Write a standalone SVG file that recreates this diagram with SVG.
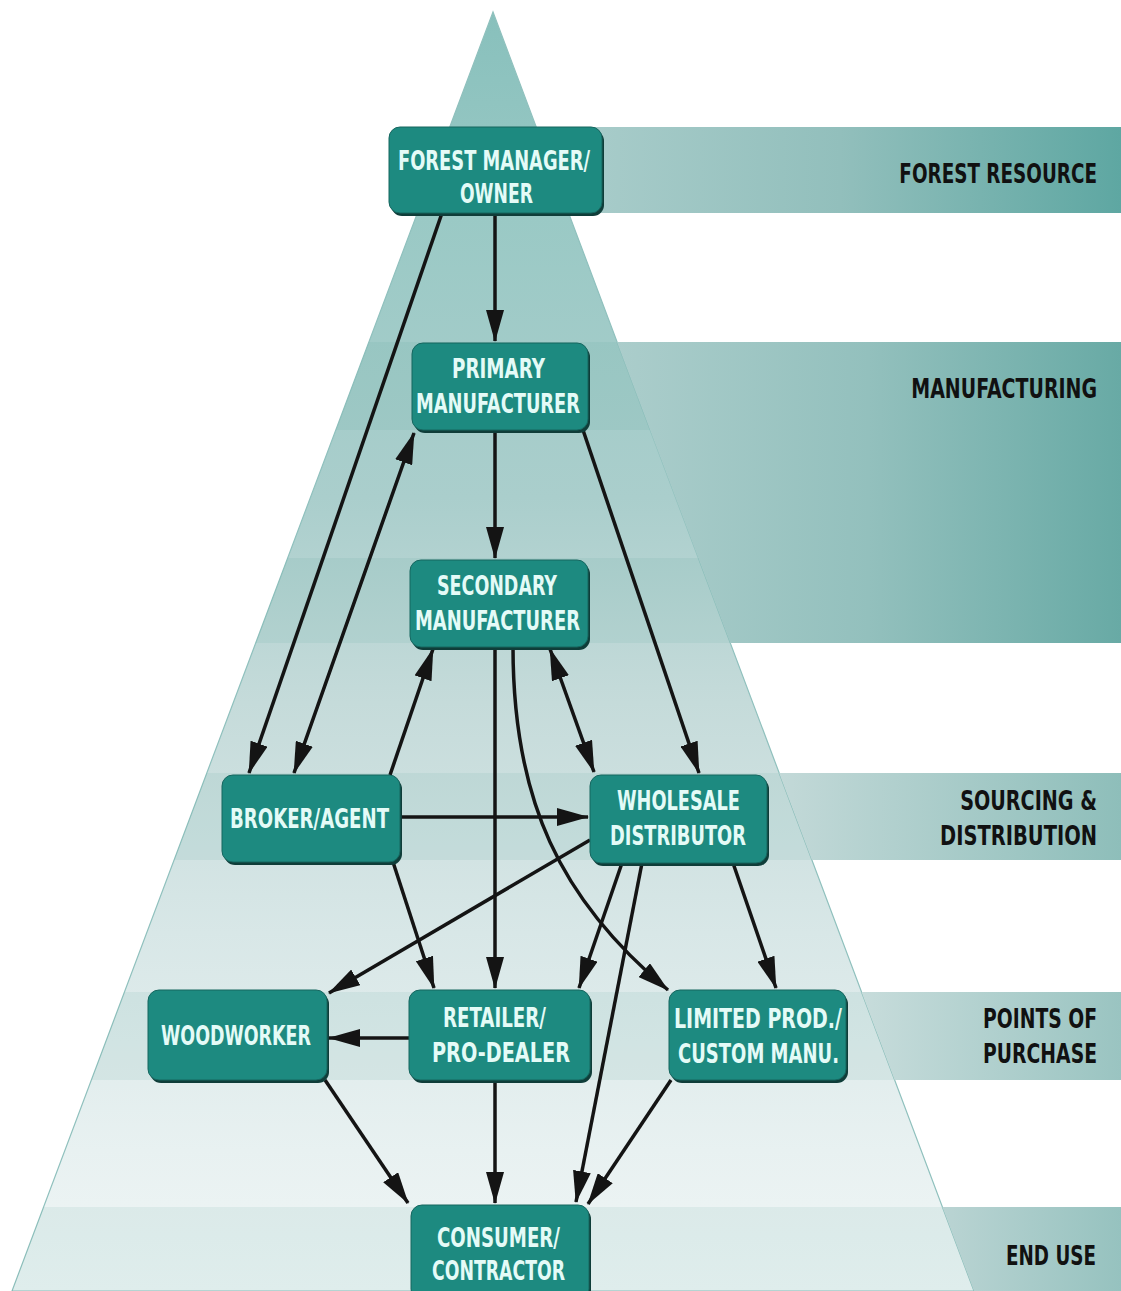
<svg xmlns="http://www.w3.org/2000/svg" width="1121" height="1291" viewBox="0 0 1121 1291">
<defs>
<style>
.box{fill:#1d8a80;stroke:#16665f;stroke-width:1}
.shd{fill:#0f3d39}
.nt{font-family:"DejaVu Sans Condensed","DejaVu Sans","Liberation Sans",sans-serif;font-weight:bold;font-size:26px;fill:#e4fbf7}
.bl{font-family:"DejaVu Sans",sans-serif;font-weight:bold;font-size:26px;fill:#111;text-anchor:end}
.ln{fill:none;stroke:#141414;stroke-width:3.5}
.tb{fill:#4f9994;opacity:0.1}
</style>
<marker id="ah" viewBox="0 0 32 18" refX="31" refY="9" markerWidth="32" markerHeight="18" markerUnits="userSpaceOnUse" orient="auto-start-reverse">
<path d="M0,0 L32,9 L0,18 Z" fill="#141414"/>
</marker>
<linearGradient id="triG" gradientUnits="userSpaceOnUse" x1="0" y1="12" x2="0" y2="1291">
<stop offset="0" stop-color="#88c0bc"/>
<stop offset="0.16" stop-color="#9ac9c5"/>
<stop offset="0.38" stop-color="#aacecc"/>
<stop offset="0.54" stop-color="#c5dbda"/>
<stop offset="0.72" stop-color="#d8e7e7"/>
<stop offset="0.89" stop-color="#e8f1f1"/>
<stop offset="1" stop-color="#f0f6f6"/>
</linearGradient>
<linearGradient id="b1" gradientUnits="userSpaceOnUse" x1="560" y1="0" x2="1121" y2="0">
<stop offset="0" stop-color="#aacdcb"/><stop offset="0.5" stop-color="#92bfbc"/><stop offset="1" stop-color="#5ea7a2"/>
</linearGradient>
<linearGradient id="b2" gradientUnits="userSpaceOnUse" x1="617" y1="0" x2="1121" y2="0">
<stop offset="0" stop-color="#abcdcb"/><stop offset="0.5" stop-color="#93c0bd"/><stop offset="1" stop-color="#68aaa5"/>
</linearGradient>
<linearGradient id="b3" gradientUnits="userSpaceOnUse" x1="779" y1="0" x2="1121" y2="0">
<stop offset="0" stop-color="#c3d9d8"/><stop offset="1" stop-color="#8ebeba"/>
</linearGradient>
<linearGradient id="b4" gradientUnits="userSpaceOnUse" x1="862" y1="0" x2="1121" y2="0">
<stop offset="0" stop-color="#c7dcdb"/><stop offset="1" stop-color="#9ac4c1"/>
</linearGradient>
<linearGradient id="b5" gradientUnits="userSpaceOnUse" x1="942" y1="0" x2="1121" y2="0">
<stop offset="0" stop-color="#bad4d3"/><stop offset="1" stop-color="#96c2bf"/>
</linearGradient>
<clipPath id="tri"><polygon points="493,12 12,1291 974,1291"/></clipPath>
<clipPath id="outR"><polygon points="493,12 1121,12 1121,1291 974,1291"/></clipPath>
</defs>

<rect width="1121" height="1291" fill="#ffffff"/>

<g id="background">
<polygon points="493,12 12,1291 974,1291" fill="url(#triG)" stroke="#8fc0bd" stroke-width="1.2"/>
<g clip-path="url(#tri)">
<rect class="tb" x="0" y="127" width="1121" height="86"/>
<rect class="tb" x="0" y="342" width="1121" height="88"/>
<rect class="tb" x="0" y="558" width="1121" height="85"/>
<rect class="tb" x="0" y="773" width="1121" height="87"/>
<rect class="tb" x="0" y="992" width="1121" height="88"/>
<rect class="tb" x="0" y="1207" width="1121" height="84"/>
</g>
<g clip-path="url(#outR)">
<rect x="500" y="127" width="621" height="86" fill="url(#b1)"/>
<rect x="500" y="342" width="621" height="301" fill="url(#b2)"/>
<rect x="500" y="773" width="621" height="87" fill="url(#b3)"/>
<rect x="500" y="992" width="621" height="88" fill="url(#b4)"/>
<rect x="500" y="1207" width="621" height="84" fill="url(#b5)"/>
</g>
</g>

<g id="band-labels">
<text class="bl" transform="translate(1097,183) scale(0.707,1)">FOREST RESOURCE</text>
<text class="bl" transform="translate(1097,398) scale(0.73,1)">MANUFACTURING</text>
<text class="bl" transform="translate(1097,810) scale(0.738,1)">SOURCING &amp;</text>
<text class="bl" transform="translate(1097,845) scale(0.749,1)">DISTRIBUTION</text>
<text class="bl" transform="translate(1097,1028) scale(0.722,1)">POINTS OF</text>
<text class="bl" transform="translate(1097,1063) scale(0.723,1)">PURCHASE</text>
<text class="bl" transform="translate(1096,1265) scale(0.705,1)">END USE</text>
</g>

<g id="connectors">
<path class="ln" d="M495,213 L495,341" marker-end="url(#ah)"/>
<path class="ln" d="M442,213 L249,773" marker-end="url(#ah)"/>
<path class="ln" d="M294,773 L414,433" marker-start="url(#ah)" marker-end="url(#ah)"/>
<path class="ln" d="M495,430 L495,558" marker-end="url(#ah)"/>
<path class="ln" d="M583,430 L699,773" marker-end="url(#ah)"/>
<path class="ln" d="M390,775 L433,649" marker-end="url(#ah)"/>
<path class="ln" d="M550,649 L594,772" marker-start="url(#ah)" marker-end="url(#ah)"/>
<path class="ln" d="M495,647 L495,988" marker-end="url(#ah)"/>
<path class="ln" d="M513,647 C513,800 560,900 668,990" marker-end="url(#ah)"/>
<path class="ln" d="M400,817 L588,817" marker-end="url(#ah)"/>
<path class="ln" d="M393,862 L434,988" marker-end="url(#ah)"/>
<path class="ln" d="M590,840 L329,993" marker-end="url(#ah)"/>
<path class="ln" d="M622,863 L579,988" marker-end="url(#ah)"/>
<path class="ln" d="M642,863 L576,1202" marker-end="url(#ah)"/>
<path class="ln" d="M733,863 L776,988" marker-end="url(#ah)"/>
<path class="ln" d="M409,1038 L329,1038" marker-end="url(#ah)"/>
<path class="ln" d="M495,1080 L495,1203" marker-end="url(#ah)"/>
<path class="ln" d="M325,1080 L408,1203" marker-end="url(#ah)"/>
<path class="ln" d="M671,1080 L588,1204" marker-end="url(#ah)"/>
</g>

<g id="n-forest">
<rect class="shd" x="391" y="130" width="213" height="86" rx="11"/>
<rect class="box" x="389" y="127" width="213" height="86" rx="11"/>
<text class="nt" x="398" y="170" textLength="192" lengthAdjust="spacingAndGlyphs">FOREST MANAGER/</text>
<text class="nt" x="460" y="203" textLength="73" lengthAdjust="spacingAndGlyphs">OWNER</text>
</g>
<g id="n-primary">
<rect class="shd" x="414" y="346" width="176" height="87" rx="11"/>
<rect class="box" x="412" y="343" width="176" height="87" rx="11"/>
<text class="nt" x="452" y="378" textLength="93" lengthAdjust="spacingAndGlyphs">PRIMARY</text>
<text class="nt" x="416" y="413" textLength="164" lengthAdjust="spacingAndGlyphs">MANUFACTURER</text>
</g>
<g id="n-secondary">
<rect class="shd" x="412" y="563" width="178" height="87" rx="11"/>
<rect class="box" x="410" y="560" width="178" height="87" rx="11"/>
<text class="nt" x="437" y="595" textLength="120" lengthAdjust="spacingAndGlyphs">SECONDARY</text>
<text class="nt" x="415" y="630" textLength="165" lengthAdjust="spacingAndGlyphs">MANUFACTURER</text>
</g>
<g id="n-broker">
<rect class="shd" x="224" y="778" width="178" height="87" rx="11"/>
<rect class="box" x="222" y="775" width="178" height="87" rx="11"/>
<text class="nt" x="230" y="828" textLength="159" lengthAdjust="spacingAndGlyphs">BROKER/AGENT</text>
</g>
<g id="n-wholesale">
<rect class="shd" x="592" y="778" width="177" height="88" rx="11"/>
<rect class="box" x="590" y="775" width="177" height="88" rx="11"/>
<text class="nt" x="617" y="810" textLength="123" lengthAdjust="spacingAndGlyphs">WHOLESALE</text>
<text class="nt" x="610" y="845" textLength="136" lengthAdjust="spacingAndGlyphs">DISTRIBUTOR</text>
</g>
<g id="n-woodworker">
<rect class="shd" x="150" y="993" width="179" height="90" rx="11"/>
<rect class="box" x="148" y="990" width="179" height="90" rx="11"/>
<text class="nt" x="161" y="1045" textLength="150" lengthAdjust="spacingAndGlyphs">WOODWORKER</text>
</g>
<g id="n-retailer">
<rect class="shd" x="411" y="993" width="181" height="90" rx="11"/>
<rect class="box" x="409" y="990" width="181" height="90" rx="11"/>
<text class="nt" x="443" y="1027" textLength="103" lengthAdjust="spacingAndGlyphs">RETAILER/</text>
<text class="nt" x="432" y="1062" textLength="138" lengthAdjust="spacingAndGlyphs">PRO-DEALER</text>
</g>
<g id="n-limited">
<rect class="shd" x="671" y="993" width="177" height="90" rx="11"/>
<rect class="box" x="669" y="990" width="177" height="90" rx="11"/>
<text class="nt" x="674" y="1028" textLength="168" lengthAdjust="spacingAndGlyphs">LIMITED PROD./</text>
<text class="nt" x="678" y="1063" textLength="161" lengthAdjust="spacingAndGlyphs">CUSTOM MANU.</text>
</g>
<g id="n-consumer">
<rect class="shd" x="413" y="1208" width="178" height="95" rx="11"/>
<rect class="box" x="411" y="1205" width="178" height="95" rx="11"/>
<text class="nt" x="437" y="1247" textLength="123" lengthAdjust="spacingAndGlyphs">CONSUMER/</text>
<text class="nt" x="432" y="1280" textLength="133" lengthAdjust="spacingAndGlyphs">CONTRACTOR</text>
</g>
</svg>
